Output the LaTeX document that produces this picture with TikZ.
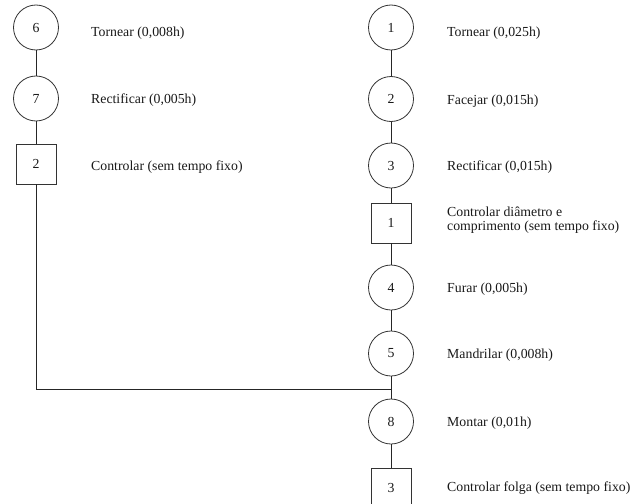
\documentclass[tikz,border=0pt]{standalone}
\usepackage{fontspec}
\setmainfont{Liberation Serif}
\begin{document}
\begin{tikzpicture}[x=1pt,y=-1pt,
  every node/.style={font=\fontsize{13.8}{14}\selectfont, text=black!90},
  opc/.style={draw=black!80, line width=0.8pt, circle, minimum size=45pt, inner sep=0pt},
  ctl/.style={draw=black!80, line width=0.8pt, rectangle, minimum size=40pt, inner sep=0pt},
  lbl/.style={anchor=base west, inner sep=0pt},
  link/.style={draw=black!85, line width=0.8pt}]
\useasboundingbox (0,0) rectangle (631,503);
% left branch
\node[opc] (c6) at (36,27.5) {6};
\node[opc] (c7) at (36,98.5) {7};
\node[ctl] (s2) at (36,164) {2};
% main branch
\node[opc] (c1) at (391,27.5) {1};
\node[opc] (c2) at (391,99) {2};
\node[opc] (c3) at (391,165.5) {3};
\node[ctl] (s1) at (391,223) {1};
\node[opc] (c4) at (391,287.5) {4};
\node[opc] (c5) at (391,353.5) {5};
\node[opc] (c8) at (391,421.5) {8};
\node[ctl] (s3) at (391,488) {3};
\coordinate (lc) at (36,389);
\coordinate (jn) at (391,389);
% connectors
\draw[link] (c6) -- (c7);
\draw[link] (c7) -- (s2);
\draw[link] (s2) -- (lc) -- (jn);
\draw[link] (c1) -- (c2);
\draw[link] (c2) -- (c3);
\draw[link] (c3) -- (s1);
\draw[link] (s1) -- (c4);
\draw[link] (c4) -- (c5);
\draw[link] (c5) -- (c8);
\draw[link] (c8) -- (s3);
% labels
\node[lbl] (t6) at (91,36.5) {Tornear (0,008h)};
\node[lbl] (t7) at (91,103.5) {Rectificar (0,005h)};
\node[lbl] (ts2) at (91,170) {Controlar (sem tempo fixo)};
\node[lbl] (t1) at (447,36.5) {Tornear (0,025h)};
\node[lbl] (t2) at (447,104) {Facejar (0,015h)};
\node[lbl] (t3) at (447,170.5) {Rectificar (0,015h)};
\node[anchor=north west, inner sep=0pt, align=left] (ts1) at (447,207) {Controlar diâmetro e\\comprimento (sem tempo fixo)};
\node[lbl] (t4) at (447,292.5) {Furar (0,005h)};
\node[lbl] (t5) at (447,358.5) {Mandrilar (0,008h)};
\node[lbl] (t8) at (447,426) {Montar (0,01h)};
\node[lbl] (ts3) at (447,491) {Controlar folga (sem tempo fixo)};
\end{tikzpicture}
\end{document}
